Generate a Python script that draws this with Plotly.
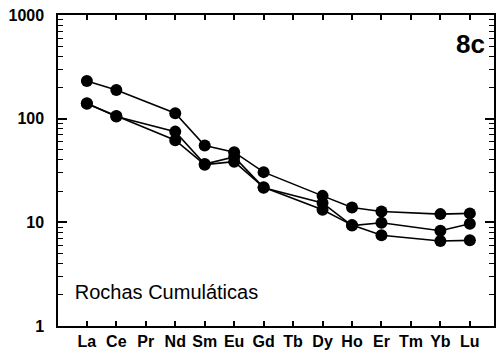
import plotly.graph_objects as go

elements = ["La", "Ce", "Pr", "Nd", "Sm", "Eu", "Gd", "Tb", "Dy", "Ho", "Er", "Tm", "Yb", "Lu"]
sample_a = [231, 189, None, 113, 55, 47.5, 30.5, None, 18.0, 13.9, 12.7, None, 12.0, 12.2]
sample_b = [141, 105, None, 75, 36.5, 42.7, 21.6, None, 15.4, 9.3, 9.9, None, 8.3, 9.7]
sample_c = [139, 106, None, 62, 36.0, 38.5, 21.8, None, 13.2, 9.4, 7.5, None, 6.6, 6.7]
panel_label = "8c"
caption = "Rochas Cumuláticas"

xpos = list(range(len(elements)))

fig = go.Figure()
for s in (sample_a, sample_b, sample_c):
    fig.add_trace(go.Scatter(
        x=xpos, y=s, mode="lines+markers", connectgaps=True,
        line=dict(color="black", width=1.6),
        marker=dict(color="black", size=12, symbol="circle"),
        showlegend=False, hoverinfo="skip"))

# text drawn as text traces (annotations suppressed the tick marks)
fig.add_trace(go.Scatter(
    x=[13.51], y=[500], mode="text", text=["<b>%s</b>" % panel_label],
    textposition="middle left",
    textfont=dict(family="Liberation Sans", size=26, color="black"),
    showlegend=False, hoverinfo="skip", cliponaxis=False))
fig.add_trace(go.Scatter(
    x=[-0.41], y=[2.04], mode="text", text=[caption],
    textposition="middle right",
    textfont=dict(family="Liberation Sans", size=20, color="black"),
    showlegend=False, hoverinfo="skip", cliponaxis=False))

fig.update_layout(
    width=497, height=360,
    margin=dict(l=58, r=1, t=15, b=34),
    paper_bgcolor="white", plot_bgcolor="white",
    font=dict(family="Liberation Sans", color="black"),
    xaxis=dict(
        range=[-0.98, 13.82], tickmode="array", tickvals=xpos, ticktext=elements,
        ticks="inside", ticklen=5, tickwidth=1.5, tickcolor="black",
        showline=True, linecolor="black", linewidth=1.5, mirror="allticks",
        showgrid=False, zeroline=False,
        tickfont=dict(size=16, weight="bold")),
    yaxis=dict(
        type="log", range=[0, 3], dtick=1,
        ticks="inside", ticklen=9, tickwidth=1.5, tickcolor="black",
        minor=dict(ticks="inside", ticklen=5, tickwidth=1.2, tickcolor="black",
                   showgrid=False),
        showline=True, linecolor="black", linewidth=1.5, mirror="allticks",
        showgrid=False, zeroline=False, ticksuffix="\u00a0\u00a0",
        tickfont=dict(size=16, weight="bold")),
)

fig.write_html("out.html")
